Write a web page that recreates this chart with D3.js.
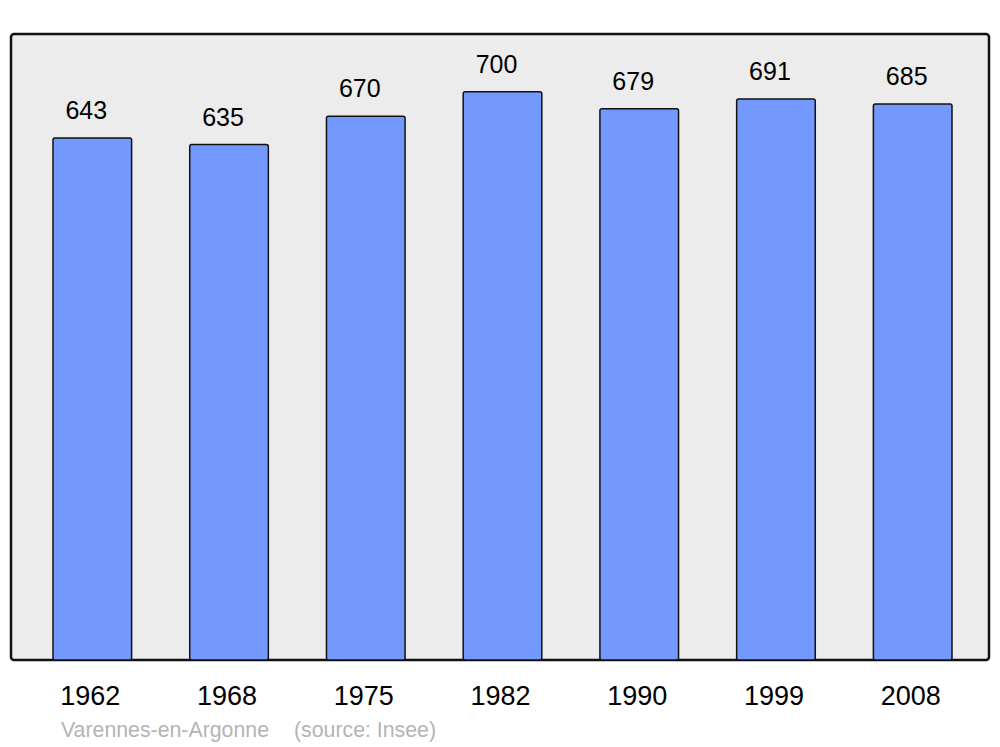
<!DOCTYPE html>
<html>
<head>
<meta charset="utf-8">
<script src="https://cdn.jsdelivr.net/npm/d3@7"></script>
<style>
  body { margin: 0; background: #fff; }
  text { font-family: "Liberation Sans", Arial, sans-serif; }
</style>
</head>
<body>
<div id="chart"></div>
<script>
//population chart data
var years = ["1962", "1968", "1975", "1982", "1990", "1999", "2008"];
var population = [643, 635, 670, 700, 679, 691, 685];
var townName = "Varennes-en-Argonne";
var sourceNote = "(source: Insee)";

var width = 1000, height = 747;
var panel = { left: 11, top: 34, right: 989, bottom: 660 };

var svg = d3.select('#chart').append('svg')
	.attr('width', width)
	.attr('height', height);

//background panel
svg.append('rect')
	.attr('x', panel.left)
	.attr('y', panel.top)
	.attr('width', panel.right - panel.left)
	.attr('height', panel.bottom - panel.top)
	.attr('rx', 3)
	.attr('ry', 3)
	.style('fill', '#ececec')
	.style('stroke', '#111')
	.style('stroke-width', 2.5);

//scales
var xScale = d3.scaleBand()
	.domain(years)
	.range([53, 952])
	.paddingInner(0.425)
	.paddingOuter(0);

var yScale = d3.scaleLinear()
	.domain([0, 770])
	.range([panel.bottom, panel.top + 1]);

var data = years.map(function(d, i) { return { year: d, value: population[i] }; });

//bars
svg.selectAll('.bar')
	.data(data)
	.enter().append('rect')
	.attr('class', 'bar')
	.attr('x', function(d) { return xScale(d.year); })
	.attr('y', function(d) { return yScale(d.value); })
	.attr('width', xScale.bandwidth())
	.attr('height', function(d) { return panel.bottom - yScale(d.value); })
	.attr('rx', 2)
	.attr('ry', 2)
	.style('fill', '#7399ff')
	.style('stroke', '#111')
	.style('stroke-width', 1.5);

//value labels
svg.selectAll('.value')
	.data(data)
	.enter().append('text')
	.attr('class', 'value')
	.attr('x', function(d) { return xScale(d.year) + xScale.bandwidth() / 2 - 6; })
	.attr('y', function(d) { return yScale(d.value) - 19; })
	.attr('text-anchor', 'middle')
	.style('font-size', '25px')
	.style('fill', '#000')
	.text(function(d) { return d.value; });

//year axis labels
svg.selectAll('.year')
	.data(years)
	.enter().append('text')
	.attr('class', 'year')
	.attr('x', function(d) { return xScale(d) + xScale.bandwidth() / 2 - 2; })
	.attr('y', 705)
	.attr('text-anchor', 'middle')
	.style('font-size', '27px')
	.style('fill', '#000')
	.text(function(d) { return d; });

//footer
svg.append('text')
	.attr('x', 61)
	.attr('y', 737)
	.style('font-size', '21.3px')
	.style('fill', '#b4b4b4')
	.text(townName);

svg.append('text')
	.attr('x', 294)
	.attr('y', 737)
	.style('font-size', '21.3px')
	.style('fill', '#b4b4b4')
	.text(sourceNote);
</script>
</body>
</html>
